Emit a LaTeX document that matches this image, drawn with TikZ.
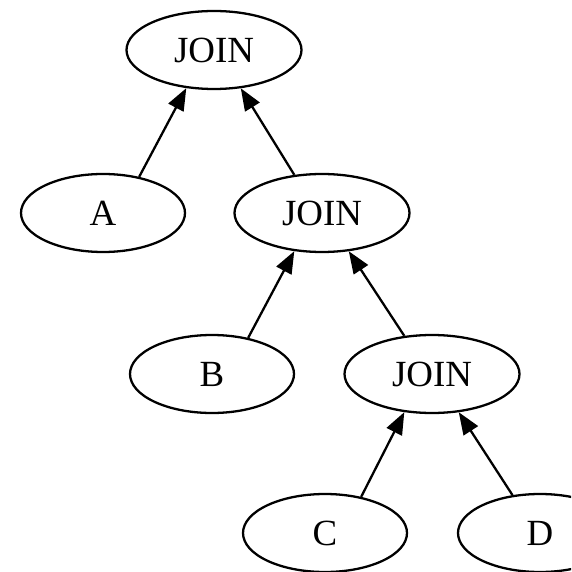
\documentclass[tikz,border=0pt]{standalone}
\usepackage{fontspec}
\setmainfont{Liberation Serif}
\usetikzlibrary{shapes.geometric,arrows.meta}

\tikzset{
	opnode/.style={draw, ellipse, line width=0.65pt, minimum width=1.75cm, minimum height=0.78cm, inner sep=0pt, font=\fontsize{10.5}{12}\selectfont},
	leafnode/.style={opnode, minimum width=1.64cm},
	uparrow/.style={-{Triangle[length=6.3pt,width=4.8pt]}, line width=0.65pt}
}

\begin{document}
\begin{tikzpicture}
			%%%%% START %%%%%
			\useasboundingbox (0, 0) rectangle (5.71, -5.72);
			\clip (0, 0) rectangle (5.71, -5.72);
			
			\node[opnode] (join1) at (2.14, -0.50) {JOIN};
			
			\node[leafnode] (a) at (1.03, -2.13) {A};
			\node[opnode] (join2) at (3.22, -2.13) {JOIN};
			
			\node[leafnode] (b) at (2.12, -3.74) {B};
			\node[opnode] (join3) at (4.32, -3.74) {JOIN};
			
			\node[leafnode] (c) at (3.25, -5.33) {C};
			\node[leafnode] (d) at (5.40, -5.33) {D};
			
			\draw[uparrow] (a.45) -- (join1.234);
			\draw[uparrow] (join2.126) -- (join1.305);
			\draw[uparrow] (b.45) -- (join2.234);
			\draw[uparrow] (join3.126) -- (join2.305);
			\draw[uparrow] (c.45) -- (join3.234);
			\draw[uparrow] (d.126) -- (join3.305);
			%%%%% END %%%%%
		\end{tikzpicture}
\end{document}
